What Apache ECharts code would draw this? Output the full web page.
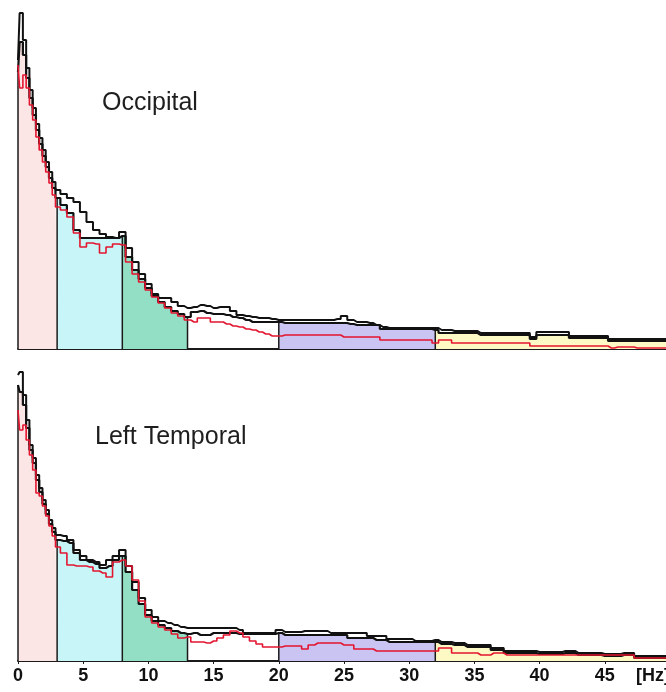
<!DOCTYPE html>
<html>
<head>
<meta charset="utf-8">
<title>EEG power spectra</title>
<script src="https://cdn.jsdelivr.net/npm/echarts@6/dist/echarts.min.js"></script>
<style>
  html, body { margin: 0; padding: 0; background: #ffffff; }
  #chart { width: 666px; height: 692px; }
</style>
</head>
<body>
<div id="chart"></div>
<script>
// Frequency bins (Hz)
const freqs = [0,0.25,0.5,0.75,1,1.25,1.5,1.75,2,2.25,2.5,2.75,3,
  3.5,4,4.5,5,5.5,6,6.5,7,7.5,8,
  8.5,9,9.5,10,10.5,11,11.5,12,12.5,13,
  13.5,14,14.5,15,15.5,16,16.5,17,17.5,18,18.5,19,19.5,20,
  20.5,21,21.5,22,22.5,23,23.5,24,24.5,25,25.5,26,26.5,27,27.5,28,28.5,29,29.5,30,30.5,31,31.5,32,
  32.5,33,33.5,34,34.5,35,35.5,36,36.5,37,37.5,38,38.5,39,39.5,40,40.5,41,41.5,42,42.5,43,43.5,44,44.5,45,45.5,46,46.5,47,47.5,48,48.5,49,49.5,50];

// Occipital spectra
const occUpper = [289,336,309,281,259,241,225,211,199,187,177,167,159,
  155,151,147,137,127,119,115,112,111,117,
  101,87,75,65,55,51,51,47,43,41,
  42,44,43,41,42,42,38,34,33,32,31,31,30,29,
  29,29,29,29,29,29,29,29,30,33,29,27,27,26,24,22,21,21,21,21,21,21,21,21,
  19,19,18,18,18,18,16,16,16,16,16,16,16,16,12,17,17,17,17,17,13,13,13,13,13,13,10,10,10,10,10,10,10,10,10,10];
const occLower = [277,307,294,271,251,234,219,205,193,182,171,161,151,
  144,136,119,111,111,111,111,111,111,113,
  92,79,70,61,53,47,42,38,35,32,
  37,38,36,35,35,34,32,31,29,27,27,27,27,27,
  26,26,26,26,26,26,26,26,26,26,25,24,24,24,24,20,20,20,20,20,20,20,20,19,
  16,16,16,16,16,16,14,14,14,14,14,14,14,14,10,14,14,14,14,14,11,11,11,11,11,11,8,8,8,8,8,8,8,8,8,8];
const occRed = [284,261,274,261,244,229,212,199,187,177,166,154,142,
  139,132,116,102,106,105,96,102,105,104,
  87,75,67,59,52,46,41,36,33,29,
  27,31,31,27,27,25,23,22,20,19,17,15,13,13,
  14,14,14,14,14,14,14,14,14,12,12,12,12,12,12,9,9,9,9,9,9,9,9,6,
  9,9,6,6,6,6,6,6,6,6,6,6,6,6,3,3,3,3,3,3,3,3,3,3,3,3,1,2,2,2,1,1,1,1,1,1];

// Left temporal spectra
const ltUpper = [286,289,266,241,216,203,186,173,161,151,141,133,126,
  125,121,111,105,101,99,96,101,105,111,
  95,79,63,51,44,40,38,36,34,33,
  33,33,33,33,33,33,33,31,28,28,28,28,28,31,
  29,29,29,30,30,30,30,28,28,28,28,28,28,25,25,25,22,22,22,22,20,20,20,21,
  19,19,18,18,16,16,16,16,13,13,10,10,10,10,10,9,9,9,9,10,10,8,8,8,8,7,7,7,8,8,5,5,5,5,5,5];
const ltLower = [276,269,256,233,211,198,181,169,157,147,137,129,121,
  120,118,108,101,99,97,93,95,101,105,
  89,71,57,46,40,36,33,30,28,27,
  28,26,26,28,28,28,28,27,27,27,27,27,27,28,
  26,26,26,26,26,26,26,26,26,26,23,23,23,23,21,21,19,19,19,19,19,19,19,19,
  17,17,16,16,14,14,14,14,11,11,8,8,8,8,8,7,7,7,7,8,8,6,6,6,6,5,5,5,6,6,3,3,3,3,3,3];
const ltRed = [251,231,236,221,206,191,168,165,155,145,135,125,114,
  108,96,95,95,94,90,88,84,99,101,
  95,81,60,44,38,34,31,27,23,24,
  19,19,18,20,23,26,30,28,24,20,17,14,14,14,
  15,15,15,12,16,18,18,18,18,16,16,12,12,12,10,10,10,10,10,10,10,10,10,10,
  13,13,8,8,8,8,6,6,8,8,6,6,6,6,6,6,6,6,6,6,6,6,6,6,6,6,6,6,6,6,3,3,3,3,3,3];

// Frequency bands: delta, theta, alpha, (13-20 unfilled), beta, gamma
const bandEdges = [0, 3, 8, 13, 20, 32, 50];
const bandColors = ['#fce5e5', '#c8f6f8', '#93dfc5', null, '#cac4f2', '#fdf9c5'];
const tickLabels = ['0','5','10','15','20','25','30','35','40','45','[Hz]'];
const panelTitles = ['Occipital', 'Left Temporal'];

const panels = [
  { upper: occUpper, lower: occLower, red: occRed },
  { upper: ltUpper, lower: ltLower, red: ltRed }
];

const pairs = (vals) => freqs.map((f, k) => [f, vals[k]]);

const series = [];
panels.forEach((p, gi) => {
  // coloured band fills under the lower trace
  for (let b = 0; b < bandColors.length; b++) {
    if (!bandColors[b]) continue;
    const lo = bandEdges[b], hi = bandEdges[b + 1];
    series.push({
      type: 'line', xAxisIndex: gi, yAxisIndex: gi,
      step: 'middle', symbol: 'none', silent: true, z: 1,
      lineStyle: { width: 0 },
      areaStyle: { color: bandColors[b], opacity: 1 },
      data: pairs(p.lower).filter(d => d[0] >= lo && d[0] <= hi)
    });
  }
  // band boundary lines
  bandEdges.slice(0, -1).forEach(e => {
    const k = freqs.indexOf(e);
    series.push({
      type: 'line', xAxisIndex: gi, yAxisIndex: gi,
      symbol: 'none', silent: true, z: 2,
      lineStyle: { color: '#1a1a1a', width: 1.5 },
      data: [[e, 0], [e, p.lower[k]]]
    });
  });
  series.push({
    type: 'line', xAxisIndex: gi, yAxisIndex: gi,
    step: 'middle', symbol: 'none', silent: true, z: 3,
    lineStyle: { color: '#111111', width: 2 },
    data: pairs(p.upper)
  });
  series.push({
    type: 'line', xAxisIndex: gi, yAxisIndex: gi,
    step: 'middle', symbol: 'none', silent: true, z: 3,
    lineStyle: { color: '#111111', width: 2.2 },
    data: pairs(p.lower)
  });
  series.push({
    type: 'line', xAxisIndex: gi, yAxisIndex: gi,
    step: 'middle', symbol: 'none', silent: true, z: 4,
    lineStyle: { color: '#e3152f', width: 1.6 },
    data: pairs(p.red)
  });
});

const xAxisFor = (gi, withLabels) => ({
  type: 'value', gridIndex: gi, min: 0, max: 50, interval: 5,
  axisLine: { show: true, lineStyle: { color: '#1a1a1a', width: 2 } },
  axisTick: { show: withLabels, length: 3, lineStyle: { color: '#1a1a1a' } },
  splitLine: { show: false },
  axisLabel: {
    show: withLabels, margin: 6, color: '#111111',
    fontFamily: '"Liberation Sans", Arial, sans-serif',
    fontWeight: 'bold', fontSize: 18,
    showMaxLabel: true, alignMaxLabel: 'right',
    formatter: v => tickLabels[Math.round(v / 5)]
  }
});

const yAxisFor = (gi) => ({
  type: 'value', gridIndex: gi, min: 0, max: 340, show: false,
  splitLine: { show: false }
});

const chart = echarts.init(document.getElementById('chart'), null, { renderer: 'canvas' });
chart.setOption({
  animation: false,
  backgroundColor: '#ffffff',
  grid: [
    { left: 18, width: 652, top: 9, height: 340, outerBoundsMode: 'none', containLabel: false },
    { left: 18, width: 652, top: 321, height: 340, outerBoundsMode: 'none', containLabel: false }
  ],
  xAxis: [xAxisFor(0, false), xAxisFor(1, true)],
  yAxis: [yAxisFor(0), yAxisFor(1)],
  graphic: [
    { type: 'text', x: 102, y: 103, z: 10,
      style: { text: panelTitles[0], fill: '#1e1e1e', fontSize: 25,
        fontFamily: '"Liberation Sans", Arial, sans-serif', verticalAlign: 'middle' } },
    { type: 'text', x: 95, y: 437, z: 10,
      style: { text: panelTitles[1], fill: '#1e1e1e', fontSize: 25,
        fontFamily: '"Liberation Sans", Arial, sans-serif', verticalAlign: 'middle' } }
  ],
  series: series
});
</script>
</body>
</html>
